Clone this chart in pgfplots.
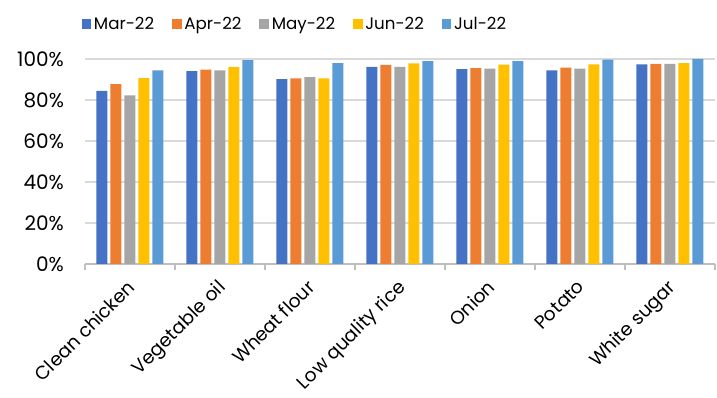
\documentclass[border=0pt]{standalone}
\usepackage{pgfplots}
\pgfplotsset{compat=1.18}
\usepackage{fontspec}
\setmainfont{Poppins}
\definecolor{cMar}{HTML}{4472C4}
\definecolor{cApr}{HTML}{ED7D31}
\definecolor{cMay}{HTML}{A5A5A5}
\definecolor{cJun}{HTML}{FFC000}
\definecolor{cJul}{HTML}{5B9BD5}
\definecolor{gridc}{HTML}{D9D9D9}
\definecolor{axisc}{HTML}{BFBFBF}
\begin{document}
\begin{tikzpicture}
\useasboundingbox (-63.75pt,-100.5pt) rectangle (474pt,198pt);
\begin{axis}[
  at={(0,0)}, anchor=south west,
  scale only axis,
  width=472.5pt, height=153.75pt,
  font=\fontsize{14}{16}\selectfont,
  ybar=2.25pt, bar width=8.25pt,
  xmin=-0.5, xmax=6.5,
  ymin=0, ymax=100,
  axis line style={draw=none},
  axis x line*=bottom,
  x axis line style={draw=axisc, line width=0.9pt},
  xtick={0,...,6},
  xticklabels={Clean chicken,Vegetable oil,Wheat flour,Low quality rice,Onion,Potato,White sugar},
  minor xtick={-0.5,0.5,...,6.5},
  major x tick style={draw=none},
  minor x tick style={draw=axisc, line width=0.9pt},
  tick align=outside,
  minor tick length=4.5pt,
  xticklabel style={rotate=45, anchor=north east, inner sep=1pt, xshift=-5.5pt, yshift=-1.5pt},
  ytick={0,20,...,100},
  yticklabel={\pgfmathprintnumber{\tick}\%},
  ytick style={draw=none},
  yticklabel style={xshift=-8pt, font=\fontsize{15}{17}\selectfont},
  ymajorgrids,
  grid style={draw=gridc, line width=0.9pt},
  /pgf/number format/assume math mode=true,
  legend style={at={(-0.012,1.17)}, anchor=west, draw=none, fill=none,
    legend columns=5, /tikz/every even column/.append style={column sep=11.5pt},
    /tikz/every odd column/.append style={inner sep=1pt},
    font=\fontsize{12.5}{15}\selectfont},
  legend image code/.code={\fill[#1] (0pt,-3.6pt) rectangle (7.2pt,3.6pt);},
  clip=false,
]
\addplot[fill=cMar, draw=none] coordinates {(0,84.4) (1,94.1) (2,90.2) (3,96.1) (4,95.0) (5,94.5) (6,97.4)};
\addplot[fill=cApr, draw=none] coordinates {(0,87.8) (1,94.8) (2,90.6) (3,97.1) (4,95.6) (5,95.8) (6,97.6)};
\addplot[fill=cMay, draw=none] coordinates {(0,82.3) (1,94.5) (2,91.2) (3,96.2) (4,95.3) (5,95.3) (6,97.6)};
\addplot[fill=cJun, draw=none] coordinates {(0,90.7) (1,96.2) (2,90.6) (3,97.9) (4,97.2) (5,97.4) (6,98.0)};
\addplot[fill=cJul, draw=none] coordinates {(0,94.5) (1,99.5) (2,98.0) (3,98.9) (4,98.9) (5,99.7) (6,100)};
\legend{Mar-22,Apr-22,May-22,Jun-22,Jul-22}
\end{axis}
\end{tikzpicture}
\end{document}
